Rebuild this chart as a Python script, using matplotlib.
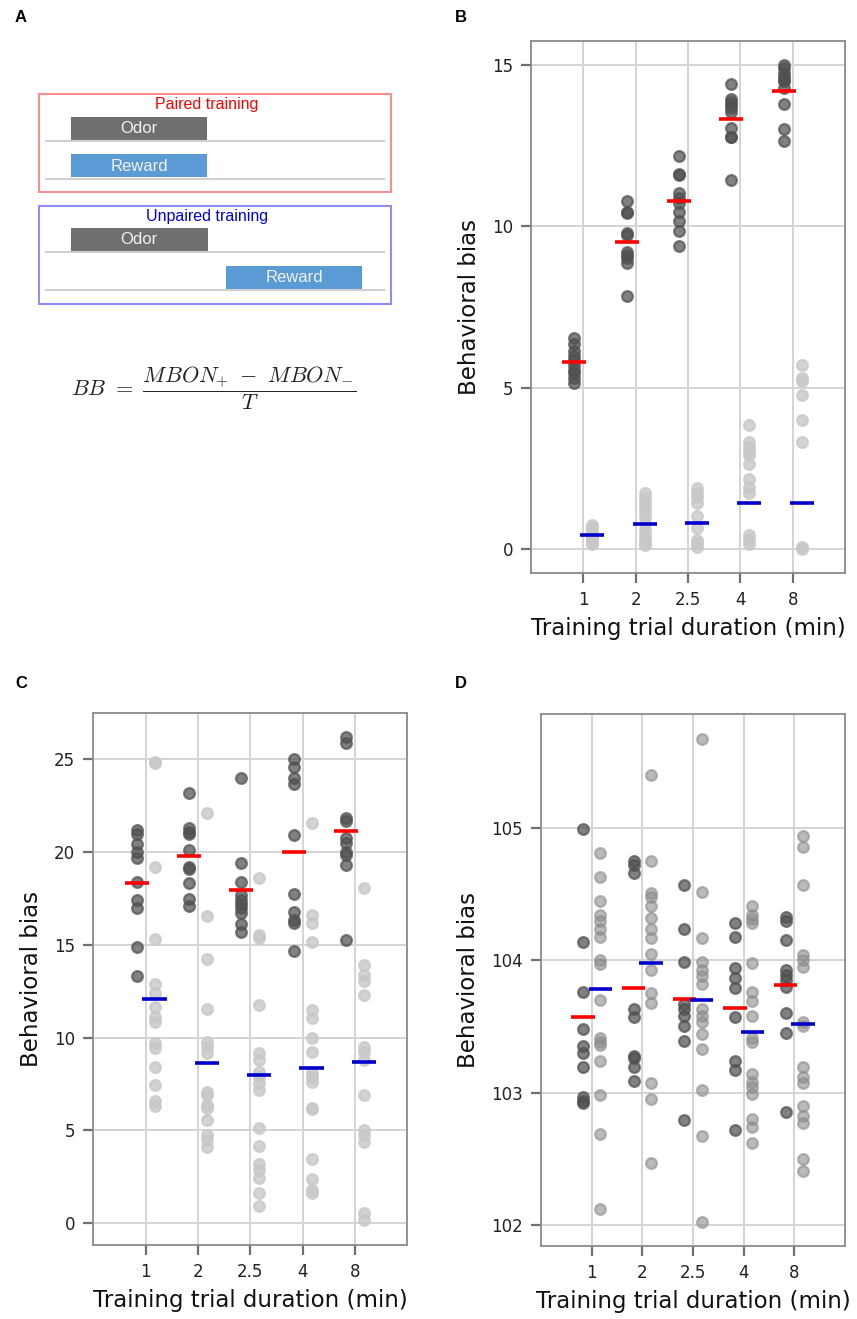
import matplotlib
matplotlib.use("Agg")
import matplotlib.pyplot as plt
from matplotlib.patches import Rectangle
import numpy as np

plt.rcParams['mathtext.fontset'] = 'cm'

durations = ["1", "2", "2.5", "4", "8"]

# Panel B
b_paired = [
    [6.55, 6.35, 6.15, 6.0, 5.85, 5.7, 5.55, 5.45, 5.3, 5.16],
    [10.79, 10.46, 10.41, 9.79, 9.74, 9.22, 9.12, 9.02, 8.88, 7.85],
    [12.18, 11.62, 11.59, 11.03, 10.87, 10.72, 10.46, 10.17, 9.87, 9.38],
    [14.40, 13.94, 13.86, 13.76, 13.66, 13.55, 13.04, 12.78, 12.76, 11.44],
    [15.0, 14.9, 14.74, 14.64, 14.54, 14.5, 14.28, 13.78, 13.01, 12.65],
]
b_paired_mean = [5.80, 9.53, 10.78, 13.33, 14.20]
b_unpaired = [
    [0.75, 0.68, 0.6, 0.52, 0.45, 0.38, 0.3, 0.25, 0.2, 0.18],
    [1.74, 1.6, 1.45, 1.3, 1.15, 1.0, 0.8, 0.6, 0.45, 0.3, 0.2, 0.15],
    [1.89, 1.75, 1.63, 1.43, 1.02, 0.66, 0.29, 0.19, 0.09],
    [3.85, 3.34, 3.18, 3.03, 2.93, 2.65, 2.17, 1.94, 1.74, 0.45, 0.29, 0.17],
    [5.71, 5.30, 5.20, 4.78, 4.0, 3.34, 0.09, 0.0],
]
b_unpaired_mean = [0.46, 0.80, 0.83, 1.43, 1.43]

# Panel C
c_paired = [
    [21.19, 20.98, 20.44, 20.02, 19.66, 18.41, 17.42, 16.97, 14.90, 13.32],
    [23.17, 21.28, 21.10, 20.98, 20.11, 19.21, 19.07, 18.32, 17.46, 17.10],
    [23.98, 19.40, 18.41, 17.69, 17.42, 17.20, 17.0, 16.70, 16.1, 15.71],
    [25.0, 24.57, 23.98, 23.67, 20.92, 17.73, 16.76, 16.34, 16.2, 14.67],
    [26.22, 25.9, 21.85, 21.7, 20.74, 20.5, 20.02, 19.84, 19.31, 15.26],
]
c_paired_mean = [18.32, 19.79, 17.96, 19.99, 21.15]
c_unpaired = [
    [24.87, 24.8, 19.21, 15.30, 12.89, 12.39, 11.67, 11.10, 10.86, 9.70, 9.43, 8.44, 7.45, 6.61, 6.32],
    [22.12, 16.56, 14.22, 11.53, 9.79, 9.52, 9.16, 7.09, 6.91, 6.37, 6.20, 5.57, 4.76, 4.49, 4.13],
    [18.59, 15.53, 15.36, 11.76, 9.19, 8.80, 8.17, 7.90, 7.54, 7.18, 5.12, 4.18, 3.20, 2.87, 2.42, 1.62, 0.95],
    [21.58, 16.61, 16.20, 15.17, 11.49, 11.04, 9.97, 9.25, 8.08, 7.90, 7.63, 6.20, 6.15, 3.45, 2.37, 1.79, 1.62],
    [18.05, 13.92, 13.38, 13.07, 12.30, 9.48, 9.25, 8.80, 6.91, 5.03, 4.76, 4.40, 0.54, 0.18],
]
c_unpaired_mean = [12.07, 8.65, 7.99, 8.38, 8.71]

# Panel D
d_paired = [
    [104.99, 104.14, 103.76, 103.48, 103.35, 103.30, 103.19, 102.97, 102.94, 102.92],
    [104.75, 104.72, 104.66, 103.63, 103.57, 103.28, 103.26, 103.19, 103.09],
    [104.57, 104.24, 103.99, 103.67, 103.63, 103.58, 103.50, 103.39, 102.79],
    [104.28, 104.18, 103.94, 103.87, 103.79, 103.57, 103.24, 103.17, 102.72],
    [104.33, 104.3, 104.15, 103.93, 103.89, 103.85, 103.8, 103.6, 103.45, 102.85],
]
d_paired_mean = [103.57, 103.79, 103.71, 103.64, 103.81]
d_unpaired = [
    [104.81, 104.63, 104.45, 104.34, 104.30, 104.24, 104.18, 104.0, 103.97, 103.70, 103.41, 103.38, 103.36, 103.24, 102.98, 102.69, 102.12],
    [105.40, 104.75, 104.51, 104.48, 104.41, 104.32, 104.24, 104.17, 104.05, 103.93, 103.75, 103.68, 103.07, 102.95, 102.47],
    [105.67, 104.52, 104.17, 103.99, 103.93, 103.88, 103.82, 103.63, 103.58, 103.53, 103.44, 103.33, 103.02, 102.67, 102.02],
    [104.41, 104.34, 104.31, 104.28, 103.98, 103.76, 103.69, 103.58, 103.41, 103.38, 103.14, 103.08, 103.04, 102.99, 102.80, 102.74, 102.62],
    [104.94, 104.86, 104.57, 104.04, 104.0, 103.95, 103.53, 103.50, 103.19, 103.12, 103.07, 102.90, 102.82, 102.77, 102.50, 102.41],
]
d_unpaired_mean = [103.78, 103.98, 103.70, 103.46, 103.52]

W, H = 857, 1319
fig = plt.figure(figsize=(W / 100, H / 100), dpi=100)


def frac(left, top, right, bottom):
    return [left / W, 1 - bottom / H, (right - left) / W, (bottom - top) / H]


def panel(ax, paired, pmean, unpaired, umean, ylim, yticks, light_color, light_alpha):
    off = 0.17
    hw = 0.23
    for i in range(len(durations)):
        ax.scatter(np.full(len(paired[i]), i - off), paired[i], s=60, color='#505050',
                   alpha=0.72, linewidths=1.6, zorder=3)
        ax.scatter(np.full(len(unpaired[i]), i + off), unpaired[i], s=60, color=light_color,
                   alpha=light_alpha, linewidths=1.6, zorder=3)
        ax.plot([i - off - hw, i - off + hw], [pmean[i], pmean[i]], color='#ff0000', lw=2.6, zorder=4,
                solid_capstyle='butt')
        ax.plot([i + off - hw, i + off + hw], [umean[i], umean[i]], color='#0000cc', lw=2.6, zorder=4,
                solid_capstyle='butt')
    ax.set_xlim(-1, 5)
    ax.set_ylim(*ylim)
    ax.set_xticks(range(len(durations)))
    ax.set_xticklabels(durations)
    ax.set_yticks(yticks)
    ax.grid(True, color='#d4d4d4', lw=1.4, zorder=0)
    ax.set_axisbelow(True)
    for sp in ax.spines.values():
        sp.set_color('#8a8a8a')
        sp.set_linewidth(1.3)
    ax.tick_params(axis='both', length=7, width=1.6, color='#707070', labelsize=12,
                   labelcolor='#222222', pad=6)
    ax.set_xlabel('Training trial duration (min)', fontsize=16.5, color='#111111', labelpad=6)
    ax.set_ylabel('Behavioral bias', fontsize=16.5, color='#111111', labelpad=8)


axB = fig.add_axes(frac(531, 41, 845, 573))
panel(axB, b_paired, b_paired_mean, b_unpaired, b_unpaired_mean, (-0.73, 15.74), [0, 5, 10, 15],
      '#c8c8c8', 0.8)
axC = fig.add_axes(frac(93.3, 713.3, 407.3, 1245))
panel(axC, c_paired, c_paired_mean, c_unpaired, c_unpaired_mean, (-1.17, 27.48), [0, 5, 10, 15, 20, 25],
      '#c8c8c8', 0.8)
axD = fig.add_axes(frac(541, 714.3, 845, 1246))
panel(axD, d_paired, d_paired_mean, d_unpaired, d_unpaired_mean, (101.84, 105.86), [102, 103, 104, 105],
      '#8c8c8c', 0.6)

# Panel A schematic (pixel coordinates)
axA = fig.add_axes([0, 0.5, 0.5, 0.5])
axA.set_xlim(0, W * 0.5)
axA.set_ylim(H * 0.5, 0)
axA.axis('off')

axA.add_patch(Rectangle((39, 94.3), 352, 98, fill=False, ec='#ff8a8a', lw=1.4))
axA.add_patch(Rectangle((39, 205.7), 352, 98, fill=False, ec='#8a8aff', lw=1.4))
for yb in (141.3, 179, 252, 290):
    axA.plot([45.7, 384], [yb, yb], color='#d0d0d0', lw=1.5)
boxes = [
    (70.7, 116.7, 136.6, 23, '#6f6f6f', 'Odor'),
    (70.7, 154.3, 136.6, 23, '#5b9bd5', 'Reward'),
    (71, 227.7, 136.7, 23, '#6f6f6f', 'Odor'),
    (225.7, 265.7, 136.6, 23, '#5b9bd5', 'Reward'),
]
for x0, y0, w, h, c, t in boxes:
    axA.add_patch(Rectangle((x0, y0), w, h, fc=c, ec='none'))
    axA.text(x0 + w / 2, y0 + h / 2 + 0.5, t, ha='center', va='center', color='#f2f2f2',
             fontsize=12, family='Liberation Sans')
axA.text(206.7, 104.5, 'Paired training', ha='center', va='center', color='#ff0000',
         fontsize=11.5, family='Liberation Sans')
axA.text(206.7, 216, 'Unpaired training', ha='center', va='center', color='#0000dd',
         fontsize=11.5, family='Liberation Sans')
axA.text(214, 388, r'$BB\ =\ \dfrac{MBON_{+}\ -\ MBON_{-}}{T}$', ha='center', va='center',
         fontsize=16, color='#222222')

for lab, x, y in [('A', 15, 17), ('B', 455, 17), ('C', 15, 684), ('D', 455, 684)]:
    fig.text(x / W, 1 - y / H, lab, fontsize=12, fontweight='bold', family='Liberation Sans',
             ha='left', va='center')

fig.savefig('out.png', dpi=100)
